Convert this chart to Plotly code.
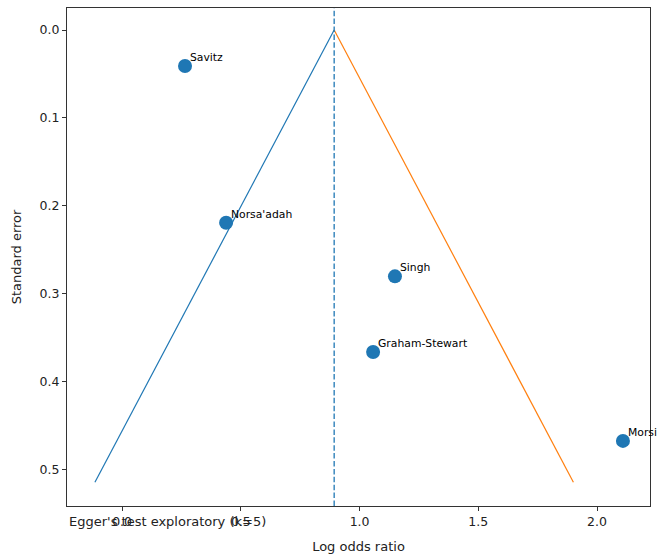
import plotly.graph_objects as go

studies = ["Savitz", "Norsa'adah", "Singh", "Graham-Stewart", "Morsi"]
log_or = [0.265, 0.438, 1.149, 1.057, 2.109]
std_err = [0.041, 0.219, 0.280, 0.366, 0.467]
pooled = 0.893
se_max = 0.514
z = 1.96
x_ticks = [0.0, 0.5, 1.0, 1.5, 2.0]
y_ticks = [0.0, 0.1, 0.2, 0.3, 0.4, 0.5]

BLUE = "#1f77b4"
ORANGE = "#ff7f0e"
FONT = "DejaVu Sans"

fig = go.Figure()

fig.add_trace(go.Scatter(
    x=[pooled, pooled - z * se_max], y=[0, se_max], mode="lines",
    line=dict(color=BLUE, width=1.2), showlegend=False, hoverinfo="skip"))
fig.add_trace(go.Scatter(
    x=[pooled, pooled + z * se_max], y=[0, se_max], mode="lines",
    line=dict(color=ORANGE, width=1.2), showlegend=False, hoverinfo="skip"))
fig.add_trace(go.Scatter(
    x=log_or, y=std_err, mode="markers",
    marker=dict(color=BLUE, size=14, line=dict(width=0)),
    showlegend=False, text=studies))

fig.add_shape(type="line", xref="x", yref="paper", x0=pooled, x1=pooled, y0=0, y1=1,
              line=dict(color=BLUE, width=1.3, dash="5.5px,2.4px"))

for name, xv, yv in zip(studies, log_or, std_err):
    fig.add_annotation(x=xv, y=yv, xref="x", yref="y", text=name, showarrow=False,
                       xanchor="left", yanchor="bottom", xshift=3, yshift=0,
                       font=dict(family=FONT, size=10.8, color="#000"))

fig.add_annotation(x=0, y=-0.031, xref="paper", yref="paper",
                   text="Egger's test exploratory (k=5)", showarrow=False,
                   xanchor="left", yanchor="middle",
                   font=dict(family=FONT, size=13, color="#222"))

axis_common = dict(showgrid=False, zeroline=False, showline=True, linecolor="#333",
                   linewidth=1, mirror=True, ticks="outside", ticklen=4,
                   tickcolor="#333", tickfont=dict(family=FONT, size=12.5, color="#222"),
                   automargin=False)

fig.update_xaxes(range=[-0.232, 2.223], tickvals=x_ticks,
                 ticktext=[f"{v:.1f}" for v in x_ticks],
                 title=dict(text="Log odds ratio", font=dict(family=FONT, size=13, color="#222")),
                 **axis_common)
fig.update_yaxes(range=[0.541, -0.025], tickvals=y_ticks,
                 ticktext=[f"{v:.1f}" for v in y_ticks],
                 title=dict(text="Standard error", font=dict(family=FONT, size=13, color="#222")),
                 **axis_common)

fig.update_layout(width=658, height=554, margin=dict(l=67, r=8, t=8, b=48),
                  plot_bgcolor="white", paper_bgcolor="white",
                  font=dict(family=FONT))

fig.write_html("out.html", config={"displayModeBar": False},
               post_script="document.body.style.margin='0';")
